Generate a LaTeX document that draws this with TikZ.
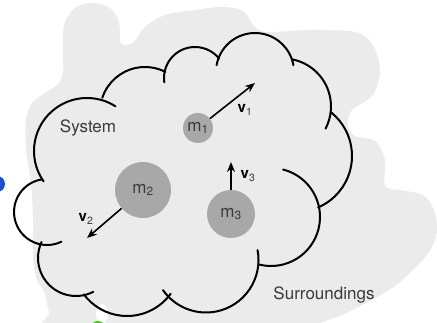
\documentclass[tikz,border=0pt]{standalone}
\usepackage{fontspec}
\setmainfont{TeX Gyre Heros}
\usetikzlibrary{arrows.meta}
\definecolor{bgray}{HTML}{EBEBEB}
\definecolor{mgray}{HTML}{A8A8A8}
\definecolor{tgray}{HTML}{3A3A3A}
\definecolor{dotblue}{HTML}{1A4FD6}
\definecolor{dotgreen}{HTML}{4DB832}
\newcommand\cloudarc[5]{\draw[cloudline] ([shift={(#3:#4)}]#1,#2) arc[start angle=#3,end angle=#5,radius=#4];}
\begin{document}
\begin{tikzpicture}[x=1pt,y=-1pt,
  cloudline/.style={line width=2pt, line cap=round},
  mass/.style={circle, fill=mgray, inner sep=0pt, text=tgray, font=\fontsize{17}{19}\selectfont},
  vel/.style={-{Stealth[length=10pt,width=8pt]}, line width=1.6pt},
  lbl/.style={text=tgray, font=\fontsize{17}{20}\selectfont, inner sep=0pt},
  vlbl/.style={text=black, font=\fontsize{15}{18}\selectfont, inner sep=0pt}]
\useasboundingbox (0,0) rectangle (437,323);
% background blob
\fill[bgray] plot[smooth cycle, tension=0.55] coordinates {
 (63,55) (64,25) (75,8) (93,3) (110,8) (119,22) (121,43) (133,43)
 (145,27) (165,15) (195,10) (222,7) (243,11) (255,27) (268,32) (310,30) (355,32)
 (373,45) (380,72) (372,96) (352,110) (348,125) (355,136) (375,141) (385,160)
 (385,186) (400,190) (423,195) (434,210) (437,232) (429,252) (413,270) (392,288)
 (366,303) (342,315) (318,324) (300,334) (60,334) (49,312) (45,293) (37,280)
 (33,258) (33,220) (31,185) (26,150) (26,120) (32,103) (45,93) (58,84) (63,72)};
\fill[white] (102,314) ellipse [x radius=6, y radius=10];
\fill[dotblue] (-3,184) circle [radius=8];
\fill[dotgreen] (98,328) circle [radius=7];
% cloud outline
\cloudarc{87}{151}{145}{53}{302.5}
\cloudarc{47}{212}{64}{33}{261}
\cloudarc{145}{112}{198.4}{45}{297}
\cloudarc{195}{78}{172}{31}{321}
\cloudarc{255}{72}{190}{39}{350}
\cloudarc{283}{106.5}{281}{48}{387.4}
\cloudarc{296}{156}{309.3}{56}{426.7}
\cloudarc{271}{217}{284.3}{49}{463.4}
\cloudarc{206}{260}{-10.9}{52.5}{145}
\cloudarc{127}{262}{36}{54}{143}
\cloudarc{76}{258}{63}{38}{205}
% masses
\node[mass, minimum size=30pt] (m1) at (198,128) {m\textsubscript{1}};
\node[mass, minimum size=56pt] (m2) at (143,190) {m\textsubscript{2}};
\node[mass, minimum size=48pt] (m3) at (231,214) {m\textsubscript{3}};
% velocity arrows
\coordinate (e1) at (255,83);
\coordinate (e2) at (87,238);
\coordinate (e3) at (231,162);
\draw[vel] (m1) -- (e1);
\draw[vel] (m2) -- (e2);
\draw[vel] (m3) -- (e3);
\node[vlbl] (lv1) at (245,110) {\textbf{v}\textsubscript{\color{tgray}1}};
\node[vlbl] (lv2) at (86,219) {\textbf{v}\textsubscript{\color{tgray}2}};
\node[vlbl] (lv3) at (248,176) {\textbf{v}\textsubscript{\color{tgray}3}};
% labels
\node[lbl] (sys) at (88,128) {System};
\node[lbl] (sur) at (324,295) {Surroundings};
\end{tikzpicture}
\end{document}
